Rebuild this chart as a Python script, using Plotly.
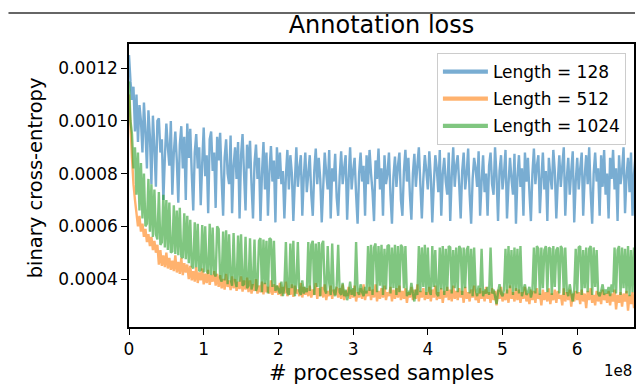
import numpy as np
import plotly.graph_objects as go

# x: processed samples (logged every 2e6 samples)
step_samples = 2e6

# Loss values in units of 1e-6 (binary cross-entropy); 20 values per 0.4e8 samples
loss_128 = [
    1250, 1150, 1080, 1130, 960, 1100, 920, 1060, 1000, 880, 1070, 960, 820, 1040, 940, 760, 1020, 900, 750, 1000,
    1010, 880, 930, 700, 860, 990, 900, 830, 1000, 720, 880, 960, 850, 690, 910, 980, 820, 940, 700, 990,
    860, 970, 800, 660, 880, 950, 820, 900, 680, 840, 975, 790, 870, 650, 930, 960, 810, 880, 670, 940,
    850, 955, 780, 640, 860, 930, 800, 760, 945, 650, 830, 900, 780, 920, 630, 870, 950, 800, 660, 910,
    820, 925, 760, 630, 840, 910, 780, 860, 620, 800, 920, 740, 880, 640, 810, 905, 770, 850, 615, 900,
    780, 880, 760, 810, 630, 790, 890, 740, 870, 800, 620, 770, 900, 750, 820, 870, 640, 790, 880, 730,
    800, 870, 720, 640, 810, 895, 760, 860, 780, 615, 750, 880, 800, 740, 890, 630, 820, 770, 875, 710,
    640, 790, 885, 760, 820, 870, 625, 780, 900, 740, 810, 860, 720, 610, 800, 880, 770, 830, 640, 870,
    760, 890, 800, 730, 620, 850, 780, 895, 740, 820, 640, 870, 760, 800, 880, 720, 610, 790, 865, 750,
    830, 880, 700, 640, 810, 890, 770, 860, 720, 625, 800, 875, 750, 830, 900, 760, 630, 780, 870, 810,
    740, 885, 790, 615, 760, 870, 820, 730, 890, 640, 800, 860, 770, 720, 880, 620, 790, 900, 750, 830,
    870, 760, 630, 810, 880, 740, 800, 895, 720, 610, 780, 860, 820, 750, 885, 640, 770, 870, 730, 800,
    640, 830, 880, 760, 720, 900, 790, 620, 810, 870, 740, 800, 890, 630, 760, 860, 780, 720, 875, 610,
    790, 870, 750, 820, 640, 880, 770, 860, 730, 620, 800, 895, 760, 830, 870, 650, 780, 880, 740, 810,
    620, 860, 790, 740, 890, 810, 630, 770, 870, 750, 830, 900, 640, 780, 860, 720, 810, 885, 615, 770,
    860, 740, 820, 880, 640, 790, 870, 760, 900, 730, 610, 800, 880, 770, 820, 640, 870, 750, 890, 720,
    800, 630, 860, 780, 890, 740, 820, 620, 870, 760, 810, 900, 650, 790, 860, 730, 880, 640, 800, 870,
]

loss_512 = [
    1100, 980, 860, 760, 700, 650, 600, 640, 580, 610, 560, 590, 540, 570, 525, 560, 510, 545, 500, 530,
    455, 510, 450, 490, 445, 500, 440, 480, 435, 470, 430, 490, 425, 465, 420, 480, 415, 460, 425, 455,
    400, 450, 395, 430, 390, 445, 385, 425, 395, 440, 380, 420, 385, 435, 378, 415, 390, 430, 375, 420,
    370, 415, 365, 400, 360, 420, 370, 395, 358, 410, 365, 400, 355, 390, 362, 410, 352, 395, 360, 405,
    350, 395, 345, 380, 355, 400, 345, 375, 350, 390, 342, 385, 350, 370, 345, 395, 340, 380, 348, 375,
    340, 385, 335, 370, 345, 390, 335, 365, 340, 380, 332, 375, 345, 360, 335, 385, 330, 370, 340, 365,
    335, 375, 330, 360, 340, 385, 325, 365, 335, 370, 330, 380, 320, 355, 335, 375, 325, 360, 340, 370,
    330, 365, 325, 380, 320, 355, 335, 370, 325, 360, 330, 375, 315, 350, 330, 365, 325, 380, 320, 355,
    335, 370, 320, 360, 330, 380, 315, 355, 325, 365, 330, 375, 320, 350, 335, 370, 315, 360, 325, 365,
    330, 375, 320, 355, 325, 365, 310, 350, 330, 370, 320, 360, 325, 380, 315, 355, 330, 365, 320, 350,
    325, 370, 315, 360, 330, 375, 320, 350, 325, 365, 310, 355, 330, 370, 320, 360, 315, 375, 325, 355,
    320, 365, 330, 355, 310, 370, 325, 350, 315, 360, 330, 375, 320, 345, 310, 365, 325, 355, 315, 370,
    325, 350, 310, 365, 320, 355, 300, 360, 325, 370, 315, 345, 320, 360, 310, 375, 325, 350, 315, 365,
    320, 360, 310, 350, 325, 370, 315, 345, 305, 360, 320, 355, 310, 365, 325, 345, 300, 360, 320, 350,
    315, 365, 305, 345, 320, 360, 310, 355, 325, 340, 300, 365, 315, 350, 320, 360, 295, 345, 315, 355,
    320, 350, 305, 360, 315, 345, 290, 355, 320, 365, 310, 340, 300, 355, 315, 350, 305, 360, 320, 345,
    310, 355, 300, 345, 315, 360, 285, 340, 310, 350, 295, 345, 315, 355, 280, 340, 305, 350, 290, 335,
]

loss_1024 = [
    1150, 1000, 950, 820, 900, 720, 880, 660, 840, 630, 800, 600, 610, 780, 580, 760, 560, 740, 570, 550,
    730, 530, 540, 720, 520, 700, 510, 690, 500, 505, 680, 495, 660, 490, 670, 485, 480, 650, 475, 640,
    460, 625, 450, 440, 615, 445, 610, 430, 435, 605, 425, 600, 430, 420, 610, 415, 595, 420, 410, 600,
    590, 405, 390, 580, 395, 585, 380, 570, 400, 375, 575, 395, 370, 565, 390, 570, 375, 380, 560, 365,
    375, 555, 360, 385, 550, 355, 375, 545, 555, 350, 550, 380, 545, 345, 555, 550, 370, 545, 355, 375,
    360, 345, 390, 335, 370, 540, 350, 340, 535, 365, 545, 335, 380, 540, 355, 340, 395, 345, 370, 350,
    540, 355, 530, 545, 340, 535, 370, 540, 335, 530, 545, 360, 345, 525, 385, 340, 535, 355, 335, 375,
    530, 350, 340, 385, 335, 360, 320, 345, 390, 340, 365, 335, 540, 355, 340, 380, 350, 335, 370, 345,
    525, 355, 530, 340, 520, 535, 350, 525, 375, 530, 340, 515, 360, 525, 530, 345, 520, 365, 530, 340,
    525, 350, 530, 520, 365, 525, 335, 355, 340, 385, 345, 315, 360, 340, 525, 350, 520, 370, 530, 340,
    520, 355, 340, 525, 370, 510, 345, 335, 520, 360, 525, 340, 515, 355, 525, 520, 345, 510, 365, 520,
    350, 525, 515, 340, 520, 365, 510, 525, 345, 515, 335, 520, 360, 335, 375, 345, 515, 335, 360, 345,
    370, 340, 520, 345, 360, 335, 305, 350, 380, 345, 335, 360, 515, 345, 525, 365, 510, 340, 520, 355,
    515, 345, 525, 335, 360, 380, 340, 350, 370, 330, 355, 520, 345, 525, 515, 340, 520, 365, 510, 525,
    350, 520, 515, 340, 525, 370, 510, 520, 345, 525, 515, 340, 520, 355, 335, 380, 345, 315, 360, 515,
    345, 520, 525, 340, 510, 365, 520, 350, 515, 525, 340, 520, 370, 510, 345, 335, 355, 380, 340, 360,
    345, 370, 335, 380, 350, 520, 345, 510, 525, 340, 520, 365, 515, 345, 525, 335, 510, 350, 520, 340,
]

series_names = ["Length = 128", "Length = 512", "Length = 1024"]
series_colors = ["rgba(31,119,180,0.6)", "rgba(255,127,14,0.6)", "rgba(44,160,44,0.6)"]

x_tickvals = [0, 1e8, 2e8, 3e8, 4e8, 5e8, 6e8]
x_ticktext = ["0", "1", "2", "3", "4", "5", "6"]
y_tickvals = [0.0004, 0.0006, 0.0008, 0.0010, 0.0012]
y_ticktext = ["0.0004", "0.0006", "0.0008", "0.0010", "0.0012"]

samples = np.arange(len(loss_128)) * step_samples

fig = go.Figure()
for name, vals, col in zip(series_names, [loss_128, loss_512, loss_1024], series_colors):
    fig.add_trace(go.Scatter(
        x=samples, y=np.array(vals) * 1e-6, mode="lines", name=name,
        line=dict(color=col, width=2.4, simplify=False), showlegend=False,
    ))
# legend entries (thicker sample lines, as in the reference legend)
for i, (name, col) in enumerate(zip(series_names, series_colors)):
    fig.add_trace(go.Scatter(
        x=[None], y=[None], mode="lines", name=name, legendgroup=f"g{i}",
        line=dict(color=col, width=4.2), showlegend=True,
    ))

FONT = "DejaVu Sans"
fig.update_layout(
    width=637, height=385,
    margin=dict(l=129, r=1, t=44, b=58),
    paper_bgcolor="white", plot_bgcolor="white",
    font=dict(family=FONT, color="black", size=17),
    title=dict(text="Annotation loss", x=0.5, xref="paper", xanchor="center",
               y=1 - 25 / 385, yref="container", yanchor="middle",
               font=dict(size=24, family=FONT, color="black")),
    showlegend=True,
    legend=dict(x=0.984, y=0.968, xanchor="right", yanchor="top",
                bgcolor="rgba(255,255,255,0.8)", bordercolor="#cccccc", borderwidth=1,
                font=dict(size=17, family=FONT, color="black"), itemwidth=45,
                tracegroupgap=2),
)
fig.update_xaxes(range=[0, 6.76e8], tickvals=x_tickvals, ticktext=x_ticktext,
                 showline=True, linecolor="black", linewidth=1.5, mirror=True,
                 ticks="outside", ticklen=6, tickcolor="black", tickwidth=1.2,
                 showgrid=False, zeroline=False, tickfont=dict(size=17))
fig.update_yaxes(range=[0.000218, 0.001292], tickvals=y_tickvals, ticktext=y_ticktext,
                 showline=True, linecolor="black", linewidth=1.5, mirror=True,
                 ticks="outside", ticklen=6, tickcolor="black", tickwidth=1.2,
                 showgrid=False, zeroline=False, tickfont=dict(size=17))

# axis labels and offset text
fig.add_annotation(text="# processed samples", xref="paper", yref="paper",
                   x=0.5, y=(327 - 373) / 283, xanchor="center", yanchor="middle",
                   showarrow=False, font=dict(size=21, family=FONT, color="black"))
fig.add_annotation(text="binary cross-entropy", xref="paper", yref="paper",
                   x=(35 - 129) / 507, y=(327 - 178) / 283, xanchor="center", yanchor="middle",
                   textangle=-90, showarrow=False, font=dict(size=19.5, family=FONT, color="black"))
fig.add_annotation(text="1e8", xref="paper", yref="paper",
                   x=1.0, y=(327 - 371) / 283, xanchor="right", yanchor="middle",
                   showarrow=False, font=dict(size=15, family=FONT, color="black"))
# thin gray rule at the top of the image
fig.add_shape(type="line", xref="paper", yref="paper",
              x0=(8 - 129) / 507, x1=(637 - 129) / 507,
              y0=1 + (44 - 13) / 283, y1=1 + (44 - 13) / 283,
              line=dict(color="#666666", width=2))

fig.write_html("out.html")
